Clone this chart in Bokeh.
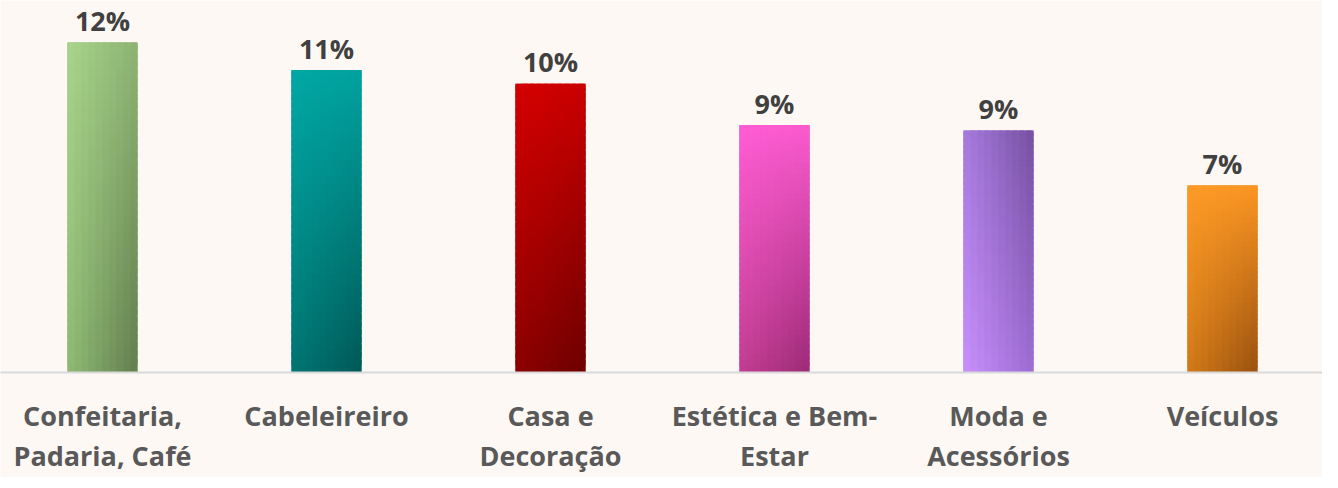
import numpy as np
from bokeh.plotting import figure
from bokeh.models import Range1d, ColumnDataSource, FixedTicker
from bokeh.core.properties import value
from bokeh.embed import file_html
from bokeh.resources import INLINE

# ---- data ----
categories = ["Confeitaria,\nPadaria, Café", "Cabeleireiro", "Casa e\nDecoração",
              "Estética e Bem-\nEstar", "Moda e\nAcessórios", "Veículos"]
values = [12.0, 11.0, 10.5, 9.0, 8.8, 6.8]
value_labels = ["12%", "11%", "10%", "9%", "9%", "7%"]

# ---- style: gradient corner colours (top-left, top-right, bottom-left, bottom-right) ----
corner_colors = [
    ("#A8D58B", "#8DB373", "#8FBB74", "#627D4E"),
    ("#00A8A5", "#00A29F", "#007572", "#005856"),
    ("#D40000", "#CA0000", "#8C0000", "#6C0000"),
    ("#FF5DD4", "#FA5ACD", "#C23E92", "#9C2A76"),
    ("#A77BDF", "#7650A0", "#C890FC", "#9C6CD2"),
    ("#FE9B27", "#FA9522", "#D27A18", "#98500F"),
]
BG = "#FDF8F4"
BAR_W = 0.3125
NC, NR = 10, 40
OV = 0.7  # overlap fraction of a slice, to hide anti-aliasing seams


def hex2rgb(h):
    h = h.lstrip("#")
    return np.array([int(h[i:i + 2], 16) for i in (0, 2, 4)], dtype=float)


def rgb2hex(c):
    c = np.clip(np.round(c), 0, 255).astype(int)
    return "#%02x%02x%02x" % tuple(c)


left, right, bottom, top, colors = [], [], [], [], []
base_colors = []
for i, v in enumerate(values):
    tl, tr, bl, br = [hex2rgb(c) for c in corner_colors[i]]
    base_colors.append(rgb2hex((tl + tr + bl + br) / 4))
    x_start = i - BAR_W / 2
    x_end = i + BAR_W / 2
    for cj in range(NC):
        u = (cj + 0.5) / NC
        for rk in range(NR):
            t = (rk + 0.5) / NR
            ctop = tl * (1 - u) + tr * u
            cbot = bl * (1 - u) + br * u
            col = cbot * (1 - t) + ctop * t
            left.append(x_start + BAR_W * cj / NC)
            right.append(min(x_end, x_start + BAR_W * (cj + 1 + OV) / NC))
            bottom.append(v * rk / NR)
            top.append(min(v, v * (rk + 1 + OV) / NR))
            colors.append(rgb2hex(col))

src = ColumnDataSource(dict(left=left, right=right, bottom=bottom, top=top, color=colors))
bar_src = ColumnDataSource(dict(x=list(range(len(values))), top=values, color=base_colors))

TOP_BORDER = 8
FW, FH = 1322, 372 - TOP_BORDER
px_per_unit = 330 / 12.0
x0 = -(110 - 8) / 224
x1 = x0 + FW / 224
y1 = FH / px_per_unit

p = figure(frame_width=FW, frame_height=FH, x_range=Range1d(x0, x1), y_range=Range1d(0, y1),
           output_backend="svg", toolbar_location=None, y_axis_location=None,
           min_border_left=0, min_border_right=0, min_border_top=TOP_BORDER,
           min_border_bottom=0)
p.background_fill_color = BG
p.border_fill_color = BG
p.outline_line_color = None
p.grid.visible = False

# solid base under each bar (keeps the bar edges clean)
p.vbar(x="x", top="top", bottom=0, width=BAR_W, source=bar_src,
       fill_color="color", line_color=None)
# gradient slices
p.quad(left="left", right="right", bottom="bottom", top="top", source=src,
       fill_color="color", line_color=None)

lab_src = ColumnDataSource(dict(x=list(range(len(values))), y=values, t=value_labels))
p.text(x="x", y="y", text="t", source=lab_src, text_align="center",
       text_baseline="alphabetic", y_offset=-22, text_font=value("Open Sans"),
       text_font_style="bold", text_font_size="27px", text_color="#404040")

ax = p.xaxis[0]
ax.ticker = FixedTicker(ticks=list(range(len(categories))))
ax.major_label_overrides = {i: c for i, c in enumerate(categories)}
ax.axis_line_color = "#D9D9D9"
ax.axis_line_width = 2
ax.major_tick_line_color = None
ax.minor_tick_line_color = None
ax.major_label_standoff = 18
ax.major_label_text_font = "Open Sans"
ax.major_label_text_font_style = "bold"
ax.major_label_text_font_size = "27px"
ax.major_label_text_color = "#595959"
ax.major_label_text_line_height = 1.1

open("out.html", "w").write(file_html(p, INLINE))
